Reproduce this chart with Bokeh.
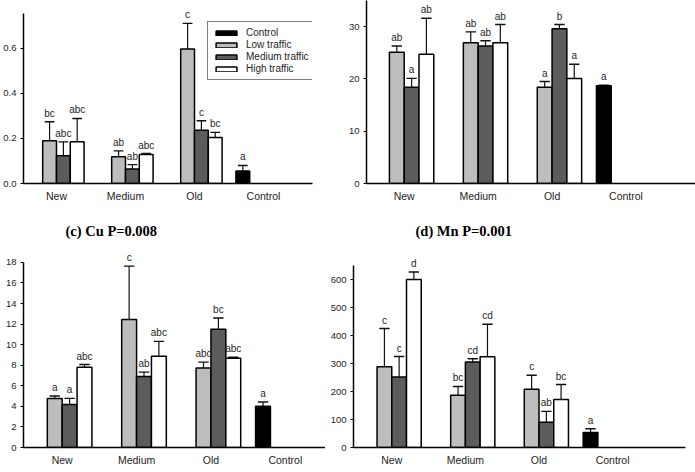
from bokeh.plotting import figure
from bokeh.layouts import column, row
from bokeh.models import (ColumnDataSource, FixedTicker, PrintfTickFormatter,
                          Range1d, Title, Legend, LegendItem, LabelSet)
from bokeh.embed import file_html
from bokeh.resources import INLINE
from bokeh.core.properties import value

# ---------------------------------------------------------------- data
sites = ["New", "Medium", "Old", "Control"]
series = ["Control", "Low traffic", "Medium traffic", "High traffic"]

# top-left panel
a_low = [0.190, 0.119, 0.597]
a_low_se = [0.084, 0.026, 0.114]
a_med = [0.123, 0.064, 0.237]
a_med_se = [0.062, 0.020, 0.042]
a_high = [0.185, 0.129, 0.204]
a_high_se = [0.104, 0.004, 0.023]
a_ctrl = [0.055]
a_ctrl_se = [0.025]
a_low_let = ["bc", "ab", "c"]
a_med_let = ["abc", "ab", "c"]
a_high_let = ["abc", "abc", "bc"]
a_ctrl_let = ["a"]
a_yticks = [0.0, 0.2, 0.4, 0.6]
a_ymax = 0.755

# top-right panel
b_low = [25.1, 26.9, 18.4]
b_low_se = [1.2, 2.1, 1.1]
b_med = [18.4, 26.3, 29.6]
b_med_se = [1.7, 1.0, 0.8]
b_high = [24.7, 26.9, 20.1]
b_high_se = [6.9, 3.5, 2.7]
b_ctrl = [18.7]
b_ctrl_se = [0.1]
b_low_let = ["ab", "ab", "a"]
b_med_let = ["a", "ab", "b"]
b_high_let = ["ab", "ab", "a"]
b_ctrl_let = ["a"]
b_yticks = [0, 10, 20, 30]
b_ymax = 35

# (c) Cu
c_low = [4.76, 12.44, 7.72]
c_low_se = [0.25, 5.20, 0.58]
c_med = [4.18, 6.91, 11.50]
c_med_se = [0.60, 0.42, 1.10]
c_high = [7.81, 8.87, 8.68]
c_high_se = [0.26, 1.45, 0.10]
c_ctrl = [4.00]
c_ctrl_se = [0.42]
c_low_let = ["a", "c", "abc"]
c_med_let = ["a", "ab", "bc"]
c_high_let = ["abc", "abc", "abc"]
c_ctrl_let = ["a"]
c_yticks = [0, 2, 4, 6, 8, 10, 12, 14, 16, 18]
c_ymax = 18

# (d) Mn
d_low = [288, 187, 208]
d_low_se = [137, 31, 50]
d_med = [252, 305, 90]
d_med_se = [73, 12, 39]
d_high = [600, 324, 171]
d_high_se = [27, 116, 54]
d_ctrl = [54]
d_ctrl_se = [13]
d_low_let = ["c", "bc", "c"]
d_med_let = ["c", "cd", "ab"]
d_high_let = ["d", "cd", "bc"]
d_ctrl_let = ["a"]
d_yticks = [0, 100, 200, 300, 400, 500, 600]
d_ymax = 650

# ---------------------------------------------------------------- style
FILLS = {"Control": "#000000", "Low traffic": "#bdbdbd",
         "Medium traffic": "#5c5c5c", "High traffic": "#ffffff"}
SLOT = {"Control": -0.3, "Low traffic": -0.1,
        "Medium traffic": 0.1, "High traffic": 0.3}
BAR_W = 0.2
CAP = 0.07
TEXT = "#1e1e1e"


def panel(width, height, xr, ymax, axis_px, headroom, yticks, fmt, groups,
          borders):
    """One bar panel; the frame is `headroom` px taller than the y axis line
    so that letters above the tallest error bars are not clipped."""
    left, right, bottom = borders
    top = height - bottom - axis_px - headroom
    y_end = ymax * (axis_px + headroom) / axis_px
    p = figure(width=width, height=height, title=None,
               x_range=Range1d(*xr), y_range=Range1d(0, y_end),
               output_backend="svg", toolbar_location=None,
               min_border_left=left, min_border_right=right,
               min_border_top=top, min_border_bottom=bottom)
    p.outline_line_color = None
    p.xgrid.visible = False
    p.ygrid.visible = False
    p.background_fill_color = "white"
    p.border_fill_color = "white"

    renderers = {}
    for name, (means, ses, letters, positions) in groups.items():
        x = [g + SLOT[name] for g in positions]
        err = [m + s for m, s in zip(means, ses)]
        src = ColumnDataSource(dict(
            x=x, top=means, err=err, letter=letters,
            xl=[v - CAP for v in x], xr=[v + CAP for v in x]))
        p.segment(x0="x", y0="top", x1="x", y1="err", source=src,
                  line_color="#111111", line_width=1.2)
        p.segment(x0="xl", y0="err", x1="xr", y1="err", source=src,
                  line_color="#111111", line_width=1.4)
        r = p.vbar(x="x", top="top", bottom=0, width=BAR_W, source=src,
                   fill_color=FILLS[name], line_color="#000000",
                   line_width=1.5)
        p.add_layout(LabelSet(x="x", y="err", text="letter", source=src,
                              text_align="center", text_baseline="bottom",
                              y_offset=3, text_font=value("Liberation Sans"),
                              text_font_size=value("10px"),
                              text_color=TEXT))
        renderers[name] = r

    xa = p.xaxis[0]
    xa.ticker = FixedTicker(ticks=[0, 1, 2, 3])
    xa.major_label_overrides = {i: s for i, s in enumerate(sites)}
    xa.axis_line_width = 1.5
    xa.major_tick_out = 0
    xa.major_tick_in = 0
    xa.minor_tick_out = 0
    xa.minor_tick_in = 0
    xa.major_label_standoff = 6
    xa.major_label_text_font = "Liberation Sans"
    xa.major_label_text_font_size = "10.5px"
    xa.major_label_text_color = TEXT

    ya = p.yaxis[0]
    ya.bounds = (0, ymax)
    ya.ticker = FixedTicker(ticks=yticks)
    ya.formatter = PrintfTickFormatter(format=fmt)
    ya.axis_line_width = 1.5
    ya.major_tick_out = 3
    ya.major_tick_in = 0
    ya.minor_tick_out = 0
    ya.minor_tick_in = 0
    ya.major_label_standoff = 4
    ya.major_label_text_font = "Liberation Sans"
    ya.major_label_text_font_size = "9.5px"
    ya.major_label_text_color = TEXT
    return p, renderers


def groups_of(low, low_se, low_l, med, med_se, med_l,
              high, high_se, high_l, ctrl, ctrl_se, ctrl_l):
    traffic = [0, 1, 2]
    return {
        "Control": (ctrl, ctrl_se, ctrl_l, [3]),
        "Low traffic": (low, low_se, low_l, traffic),
        "Medium traffic": (med, med_se, med_l, traffic),
        "High traffic": (high, high_se, high_l, traffic),
    }


def panel_title(p, text, offset):
    p.add_layout(Title(text=text, align="left", offset=offset,
                       text_font="Liberation Serif", text_font_style="bold",
                       text_font_size="14.5px", text_color="#000000",
                       standoff=4), "above")


pa, ra = panel(345, 210, (-0.478, 3.71), a_ymax, 170, 13, a_yticks, "%.1f",
               groups_of(a_low, a_low_se, a_low_let, a_med, a_med_se, a_med_let,
                         a_high, a_high_se, a_high_let, a_ctrl, a_ctrl_se, a_ctrl_let),
               (23, 33, 27))
legend = Legend(items=[LegendItem(label=s, renderers=[ra[s]]) for s in series],
                location=(184, 103))
legend.border_line_color = "black"
legend.border_line_width = 1
legend.background_fill_color = "white"
legend.background_fill_alpha = 1.0
legend.label_text_font = "Liberation Sans"
legend.label_text_font_size = "10px"
legend.label_text_color = TEXT
legend.glyph_width = 26
legend.glyph_height = 6
legend.label_height = 11
legend.label_standoff = 7
legend.spacing = 1
legend.padding = 5
legend.margin = 0
pa.add_layout(legend)

pb, _ = panel(350, 210, (-0.51, 3.94), b_ymax, 184, 0, b_yticks, "%d",
              groups_of(b_low, b_low_se, b_low_let, b_med, b_med_se, b_med_let,
                        b_high, b_high_se, b_high_let, b_ctrl, b_ctrl_se, b_ctrl_let),
              (18, 0, 26))

pc, _ = panel(325, 262, (-0.52, 3.54), c_ymax, 186, 22, c_yticks, "%d",
              groups_of(c_low, c_low_se, c_low_let, c_med, c_med_se, c_med_let,
                        c_high, c_high_se, c_high_let, c_ctrl, c_ctrl_se, c_ctrl_let),
              (23, 0, 24))
panel_title(pc, "(c) Cu P=0.008", 42)

pd, _ = panel(370, 262, (-0.52, 3.99), d_ymax, 182, 25, d_yticks, "%d",
              groups_of(d_low, d_low_se, d_low_let, d_med, d_med_se, d_med_let,
                        d_high, d_high_se, d_high_let, d_ctrl, d_ctrl_se, d_ctrl_let),
              (28, 10, 25))
panel_title(pd, "(d) Mn P=0.001", 62)

layout = column(row(pa, pb), row(pc, pd))
open("out.html", "w").write(file_html(layout, INLINE))
